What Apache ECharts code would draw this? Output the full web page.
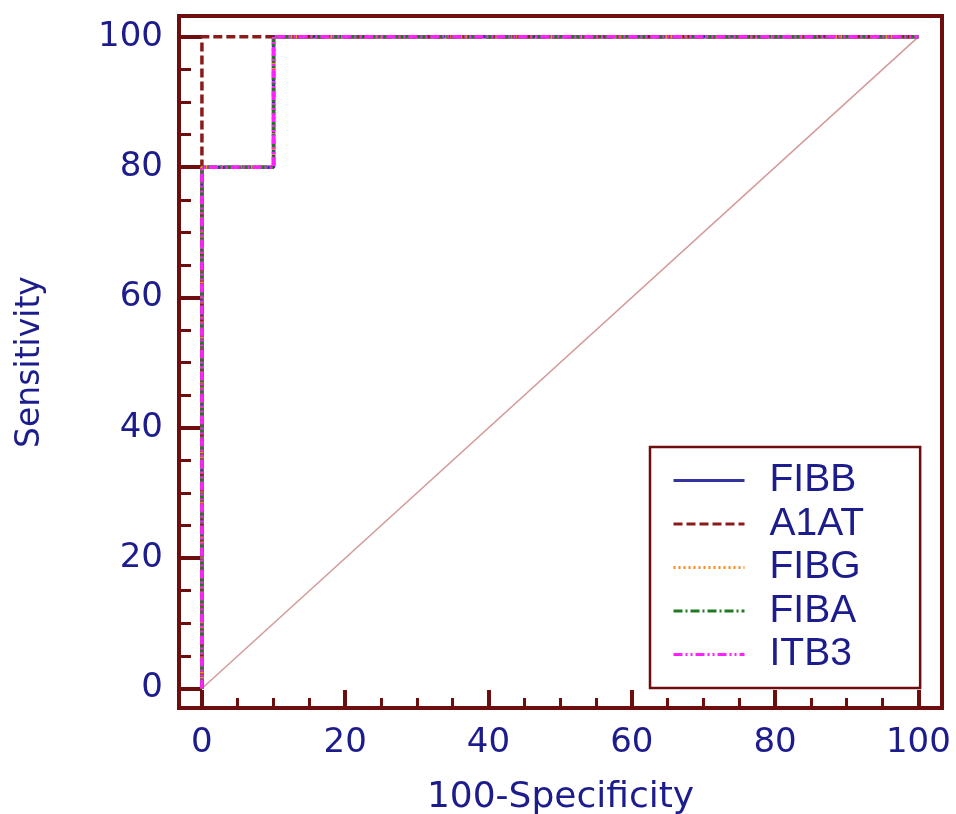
<!DOCTYPE html>
<html>
<head>
<meta charset="utf-8">
<script src="https://cdn.jsdelivr.net/npm/echarts@6/dist/echarts.min.js"></script>
<style>
html, body { margin: 0; padding: 0; background: #fff; }
#Root { width: 956px; height: 814px; }
</style>
</head>
<body>
<div id="Root"></div>
<script>
// ROC curves, x = 100-Specificity, y = Sensitivity
let seriesNames = ["FIBB", "A1AT", "FIBG", "FIBA", "ITB3"]
let fibbX = [0, 0, 10, 10, 100]
let fibbY = [0, 80, 80, 100, 100]
let a1atX = [0, 0, 100]
let a1atY = [0, 100, 100]
let fibgX = [0, 0, 10, 10, 100]
let fibgY = [0, 80, 80, 100, 100]
let fibaX = [0, 0, 10, 10, 100]
let fibaY = [0, 80, 80, 100, 100]
let itb3X = [0, 0, 10, 10, 100]
let itb3Y = [0, 80, 80, 100, 100]
let refX = [0, 100]
let refY = [0, 100]

let majorTicks = [0, 20, 40, 60, 80, 100]
let minorTicks = [5, 10, 15, 25, 30, 35, 45, 50, 55, 65, 70, 75, 85, 90, 95]

let navy = "#1c1c8c"
let maroon = "#6e0d0d"

function toPairs(xs, ys) {
    return xs.map((x, i) => [x, ys[i]])
}

let chart = echarts.init(document.getElementById("Root"))

function majorAxis(isX) {
    return {
        type: "value",
        min: isX ? -3.2 : -3,
        max: isX ? 103.3 : 103.2,
        position: isX ? "bottom" : "left",
        name: isX ? "100-Specificity" : "Sensitivity",
        nameLocation: "middle",
        nameGap: isX ? 72 : 132,
        nameTextStyle: {
            color: navy,
            fontFamily: "DejaVu Sans",
            fontSize: isX ? 36 : 33
        },
        axisLine: { show: false, onZero: false },
        splitLine: { show: false },
        axisTick: {
            show: true,
            inside: true,
            length: isX ? 18 : 23,
            customValues: majorTicks,
            lineStyle: { color: maroon, width: 4 }
        },
        axisLabel: {
            show: true,
            customValues: majorTicks,
            color: navy,
            fontFamily: "DejaVu Sans",
            fontSize: 34,
            margin: isX ? 18 : 16
        }
    }
}

function minorAxis(isX) {
    return {
        type: "value",
        min: isX ? -3.2 : -3,
        max: isX ? 103.3 : 103.2,
        position: isX ? "bottom" : "left",
        axisLine: { show: false, onZero: false },
        splitLine: { show: false },
        axisLabel: { show: false },
        axisTick: {
            show: true,
            inside: true,
            length: isX ? 10 : 12,
            customValues: minorTicks,
            lineStyle: { color: maroon, width: 3 }
        }
    }
}

let lineColors = ["#34349e", "#8b1a1a", "#ff8c1a", "#1f7a1f", "#ff22ff"]
let lineDash = ["solid", [9, 4], [2, 3], [9, 3, 2, 3], [9, 3, 2, 3, 2, 3]]
let lineData = [
    toPairs(fibbX, fibbY),
    toPairs(a1atX, a1atY),
    toPairs(fibgX, fibgY),
    toPairs(fibaX, fibaY),
    toPairs(itb3X, itb3Y)
]

let curveSeries = seriesNames.map((name, i) => ({
    name: name,
    type: "line",
    xAxisIndex: 0,
    yAxisIndex: 0,
    symbol: "none",
    showSymbol: false,
    data: lineData[i],
    lineStyle: { color: lineColors[i], width: 3.5, type: lineDash[i] },
    itemStyle: { color: lineColors[i] },
    z: 3 + i
}))

let options = {
    animation: false,
    grid: {
        left: 179,
        top: 16,
        width: 763,
        height: 692,
        outerBoundsMode: "none",
        containLabel: false,
        show: true,
        borderColor: maroon,
        borderWidth: 4,
        backgroundColor: "#fff"
    },
    xAxis: [majorAxis(true), minorAxis(true)],
    yAxis: [majorAxis(false), minorAxis(false)],
    legend: {
        data: seriesNames,
        orient: "vertical",
        left: 650,
        top: 447,
        padding: [14, 56, 14, 22],
        itemWidth: 71,
        itemHeight: 20,
        itemGap: 4.5,
        backgroundColor: "#fff",
        borderColor: maroon,
        borderWidth: 2.5,
        borderRadius: 0,
        itemStyle: { opacity: 0 },
        lineStyle: { width: 3 },
        textStyle: {
            color: navy,
            fontFamily: "Liberation Sans",
            fontSize: 39,
            lineHeight: 38,
            padding: [0, 0, 0, 20]
        }
    },
    series: [
        {
            name: "reference",
            type: "line",
            symbol: "none",
            data: toPairs(refX, refY),
            lineStyle: { color: "#d49a9a", width: 1.5 },
            z: 2
        }
    ].concat(curveSeries)
}

chart.setOption(options)
</script>
</body>
</html>
